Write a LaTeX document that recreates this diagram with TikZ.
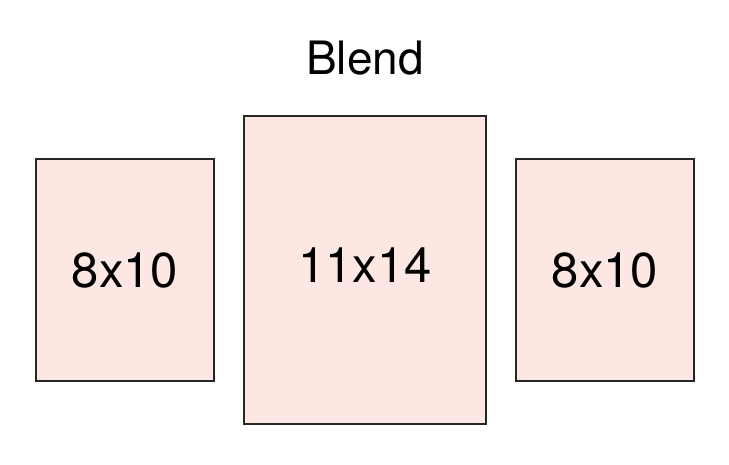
\documentclass[tikz,border=0pt]{standalone}
\usepackage{fontspec}
\setmainfont{TeX Gyre Heros}
\usepackage{xcolor}
\usetikzlibrary{positioning}
\definecolor{printpink}{HTML}{FCE7E3}

\begin{document}
\begin{tikzpicture}[
  x=1pt, y=-1pt,
  print/.style={draw=black!85, line width=1.6pt, fill=printpink, inner sep=0pt, font=\fontsize{49}{52}\selectfont},
  title/.style={font=\fontsize{46}{50}\selectfont}
]
  \useasboundingbox (0,0) rectangle (729,464);

  % The prints
  \node[print, minimum width=178pt, minimum height=222pt] (left) at (125,270) {8x10};
  \node[print, minimum width=242pt, minimum height=308pt, text depth=9pt] (mid) at (365,270) {11x14};
  \node[print, minimum width=178pt, minimum height=222pt] (right) at (605,270) {8x10};

  % Title
  \node[title] (blend) at (365,58) {Blend};
\end{tikzpicture}
\end{document}
